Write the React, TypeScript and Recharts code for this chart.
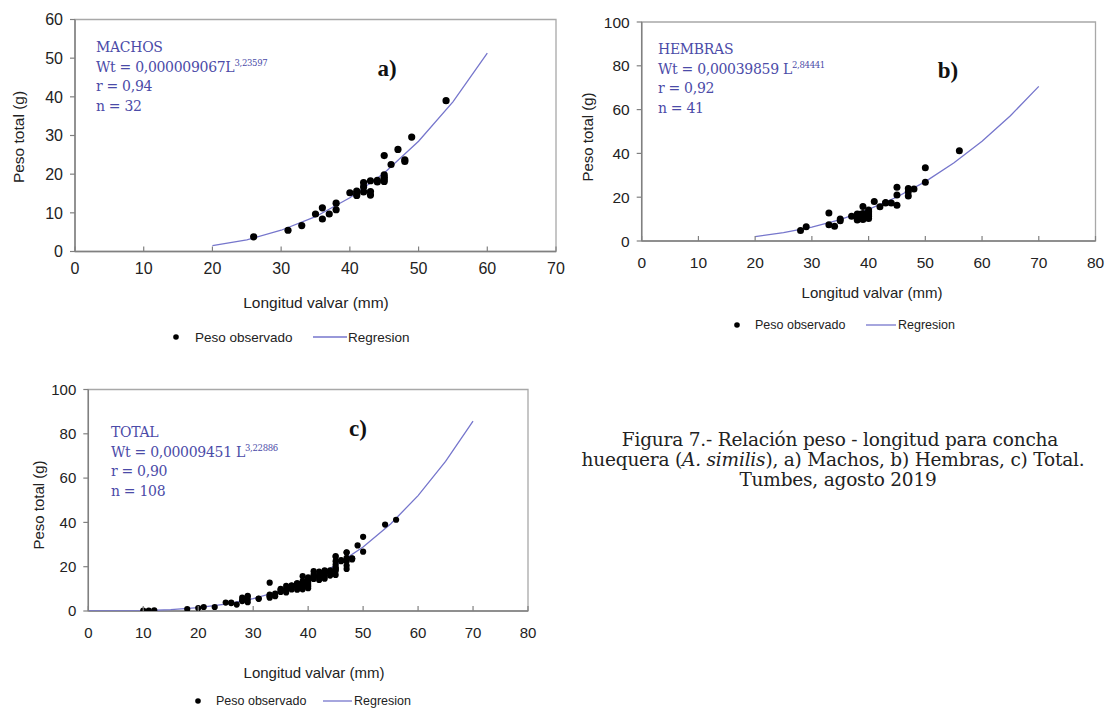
import React from 'react';
import { ScatterChart, Scatter, XAxis, YAxis, ReferenceArea } from 'recharts';

// ---------- DATA ----------
// a) Machos: observed points
const machosLongitud = [26, 31, 33, 35, 36, 36, 37, 38, 38, 40, 41, 41, 41, 42, 42, 42, 43, 43, 43, 44, 44, 45, 45, 45, 45, 45, 46, 47, 48, 48, 49, 54];
const machosPeso = [3.8, 5.5, 6.7, 9.7, 11.3, 8.4, 9.7, 12.5, 10.8, 15.2, 15.6, 14.5, 15.0, 17.8, 16.7, 15.4, 18.3, 15.5, 14.6, 18.4, 18.0, 24.8, 19.8, 18.7, 18.1, 19.2, 22.5, 26.4, 23.7, 23.3, 29.6, 39.0];
// a) regression curve (read off the picture)
const machosRegL = [20, 25, 30, 35, 40, 45, 50, 55, 60];
const machosRegW = [1.5, 3.0, 5.5, 9.0, 13.9, 20.3, 28.5, 38.7, 51.3];

// b) Hembras
const hembrasLongitud = [28, 29, 33, 33, 34, 35, 35, 37, 38, 38, 38, 38.5, 38.5, 38.5, 39, 39, 39, 39, 39, 39, 40, 40, 40, 40, 40, 40, 41, 42, 43, 43, 44, 45, 45, 45, 47, 47, 47, 48, 50, 50, 56];
const hembrasPeso = [4.8, 6.5, 12.8, 7.4, 6.7, 9.3, 10.0, 11.3, 9.6, 11.1, 12.3, 10.3, 12.2, 11.5, 9.8, 11.9, 15.7, 10.8, 12.6, 11.0, 14.2, 11.9, 10.3, 12.8, 13.5, 11.2, 18.0, 15.6, 17.3, 17.6, 17.3, 24.5, 21.0, 16.3, 24.0, 22.5, 20.5, 23.8, 33.5, 26.8, 41.2];
const hembrasRegL = [20, 25, 30, 35, 40, 45, 50, 55, 60, 65, 70];
const hembrasRegW = [2.0, 3.8, 6.3, 9.8, 14.4, 20.1, 27.1, 35.6, 45.5, 57.2, 70.6];

// c) Total = machos + hembras + remaining specimens
const otrosLongitud = [10, 11, 12, 18, 20, 21, 23, 25, 26, 27, 28, 28, 29, 29, 29, 31, 33, 33, 34, 35, 36, 36, 37, 37, 38, 39, 40, 41, 42, 43, 44, 45, 46, 47, 47];
const otrosPeso = [0.2, 0.2, 0.3, 0.9, 1.3, 1.8, 1.8, 3.8, 3.6, 2.9, 4.5, 6.0, 4.0, 5.2, 6.8, 5.6, 6.0, 6.8, 7.8, 8.6, 9.2, 10.0, 10.5, 11.6, 12.5, 13.5, 14.8, 16.5, 14.0, 16.5, 16.0, 22.5, 23.0, 26.5, 19.0];
const totalRegL = [0, 5, 10, 15, 20, 25, 30, 35, 40, 45, 50, 55, 60, 65, 70];
const totalRegW = [0, 0.02, 0.16, 0.59, 1.5, 3.1, 5.6, 9.1, 14.1, 20.6, 28.9, 39.3, 52.1, 67.5, 85.7];

// tick labels
const ticksX70 = [0, 10, 20, 30, 40, 50, 60, 70];
const ticksX80 = [0, 10, 20, 30, 40, 50, 60, 70, 80];
const ticksY60 = [0, 10, 20, 30, 40, 50, 60];
const ticksY100 = [0, 20, 40, 60, 80, 100];

// texts
const xTitle = 'Longitud valvar (mm)';
const yTitle = 'Peso total (g)';
const legendObs = 'Peso observado';
const legendReg = 'Regresion';

const toPts = (xs: number[], ys: number[]) => xs.map((x, i) => ({ x, y: ys[i] }));

const SANS = '"Liberation Sans", Arial, sans-serif';
const SERIF = '"DejaVu Serif", serif';
const BOLDSERIF = '"Liberation Serif", serif';
const BLUE_TXT = '#4b4ba8';
const BLUE_LINE = '#7676cc';
const AXIS = '#808080';
const BORDER = '#a8a8a8';

function makeXTick(offset: number, fontSize: number) {
  return (props: any) => {
    const { x, y, payload } = props;
    return (
      <g>
        <line x1={x} x2={x} y1={y} y2={y - 5} stroke={AXIS} strokeWidth={1.2} />
        <text x={x} y={y + offset} textAnchor="middle" dominantBaseline="central" fontSize={fontSize} fontFamily={SANS} fill="#222">
          {payload.value}
        </text>
      </g>
    );
  };
}

type PanelProps = {
  left: number; top: number; width: number; height: number;
  margin: { top: number; right: number; left: number; bottom: number };
  yAxisWidth: number; xAxisHeight: number;
  xDomain: [number, number]; xTicks: number[];
  yDomain: [number, number]; yTicks: number[];
  obs: { x: number; y: number }[];
  curve: { x: number; y: number }[];
  dotR: number; tickOffset: number; tickFont: number;
};

function Panel(p: PanelProps) {
  return (
    <div style={{ position: 'absolute', left: p.left, top: p.top }}>
      <ScatterChart width={p.width} height={p.height} margin={p.margin}>
        <ReferenceArea x1={p.xDomain[0]} x2={p.xDomain[1]} y1={p.yDomain[0]} y2={p.yDomain[1]} fill="none" stroke={BORDER} strokeWidth={1.3} fillOpacity={0} />
        <XAxis
          type="number" dataKey="x" domain={p.xDomain} ticks={p.xTicks} interval={0}
          allowDataOverflow height={p.xAxisHeight} tickSize={0} tickMargin={0}
          axisLine={{ stroke: AXIS, strokeWidth: 1.5 }} tickLine={false}
          tick={makeXTick(p.tickOffset, p.tickFont)}
        />
        <YAxis
          type="number" dataKey="y" domain={p.yDomain} ticks={p.yTicks} interval={0}
          allowDataOverflow width={p.yAxisWidth} tickSize={5} tickMargin={7}
          axisLine={{ stroke: AXIS, strokeWidth: 1.5 }} tickLine={{ stroke: AXIS, strokeWidth: 1.2 }}
          tick={{ fontSize: p.tickFont, fontFamily: SANS, fill: '#222' }}
        />
        <Scatter
          data={p.curve} isAnimationActive={false} line={{ stroke: BLUE_LINE, strokeWidth: 1.3 }}
          lineType="joint" shape={() => <g />}
        />
        <Scatter
          data={p.obs} isAnimationActive={false}
          shape={(s: any) => <circle cx={s.cx} cy={s.cy} r={p.dotR} fill="#000" />}
        />
      </ScatterChart>
    </div>
  );
}

function Equation({ x, y, name, coef, exp, r, n }: { x: number; y: number; name: string; coef: string; exp: string; r: string; n: string }) {
  const fs = 14;
  return (
    <g fontFamily={SERIF} fontSize={fs} fill={BLUE_TXT} letterSpacing={-0.3}>
      <text x={x} y={y}>{name}</text>
      <text x={x} y={y + 19.5}>
        {`Wt = ${coef}`}
        <tspan fontSize={8.5} dy={-6}>{exp}</tspan>
      </text>
      <text x={x} y={y + 39}>{`r = ${r}`}</text>
      <text x={x} y={y + 58.5}>{`n = ${n}`}</text>
    </g>
  );
}

function Legend({ dotX, textX, lineX1, lineX2, regX, y, fs }: { dotX: number; textX: number; lineX1: number; lineX2: number; regX: number; y: number; fs: number }) {
  return (
    <g fontFamily={SANS} fontSize={fs} fill="#222">
      <circle cx={dotX} cy={y} r={2.8} fill="#000" />
      <text x={textX} y={y} dominantBaseline="central">{legendObs}</text>
      <line x1={lineX1} x2={lineX2} y1={y} y2={y} stroke={BLUE_LINE} strokeWidth={1.3} />
      <text x={regX} y={y} dominantBaseline="central">{legendReg}</text>
    </g>
  );
}

function Titles({ xCx, xCy, yCx, yCy, fs }: { xCx: number; xCy: number; yCx: number; yCy: number; fs: number }) {
  return (
    <g fontFamily={SANS} fontSize={fs} fill="#222">
      <text x={xCx} y={xCy} textAnchor="middle" dominantBaseline="central">{xTitle}</text>
      <text x={yCx} y={yCy} textAnchor="middle" dominantBaseline="central" transform={`rotate(-90 ${yCx} ${yCy})`}>{yTitle}</text>
    </g>
  );
}

export default function App() {
  const machosObs = toPts(machosLongitud, machosPeso);
  const hembrasObs = toPts(hembrasLongitud, hembrasPeso);
  const totalObs = [...machosObs, ...hembrasObs, ...toPts(otrosLongitud, otrosPeso)];

  return (
    <div style={{ position: 'absolute', left: 0, top: 0, width: 1107, height: 708, background: '#fff', overflow: 'hidden' }}>
      <Panel
        left={0} top={0} width={580} height={290}
        margin={{ top: 19.5, right: 24, left: 0, bottom: 0 }}
        yAxisWidth={75} xAxisHeight={38.5}
        xDomain={[0, 70]} xTicks={ticksX70} yDomain={[0, 60]} yTicks={ticksY60}
        obs={machosObs} curve={toPts(machosRegL, machosRegW)} dotR={3.6} tickOffset={16.5} tickFont={16}
      />
      <Panel
        left={560} top={0} width={547} height={300}
        margin={{ top: 22, right: 11.5, left: 0, bottom: 0 }}
        yAxisWidth={81.7} xAxisHeight={59}
        xDomain={[0, 80]} xTicks={ticksX80} yDomain={[0, 100]} yTicks={ticksY100}
        obs={hembrasObs} curve={toPts(hembrasRegL, hembrasRegW)} dotR={3.5} tickOffset={21} tickFont={15.5}
      />
      <Panel
        left={0} top={360} width={560} height={290}
        margin={{ top: 29.5, right: 32, left: 0, bottom: 0 }}
        yAxisWidth={88.3} xAxisHeight={39}
        xDomain={[0, 80]} xTicks={ticksX80} yDomain={[0, 100]} yTicks={ticksY100}
        obs={totalObs} curve={toPts(totalRegL, totalRegW)} dotR={3.1} tickOffset={21} tickFont={15}
      />
      <svg width={1107} height={708} style={{ position: 'absolute', left: 0, top: 0, pointerEvents: 'none' }}>
        <Titles xCx={316} xCy={302} yCx={18} yCy={137} fs={15.5} />
        <Titles xCx={872} xCy={292} yCx={587} yCy={137} fs={15} />
        <Titles xCx={314} xCy={672} yCx={38} yCy={505} fs={15} />

        <Equation x={96} y={52} name="MACHOS" coef="0,000009067L" exp="3,23597" r="0,94" n="32" />
        <Equation x={658} y={54} name="HEMBRAS" coef="0,00039859 L" exp="2,84441" r="0,92" n="41" />
        <Equation x={111} y={437} name="TOTAL" coef="0,00009451 L" exp="3,22886" r="0,90" n="108" />

        <g fontFamily={BOLDSERIF} fontWeight="bold" fontSize={23} fill="#111" textAnchor="middle" dominantBaseline="central">
          <text x={387} y={68}>a)</text>
          <text x={948} y={70}>b)</text>
          <text x={358} y={428}>c)</text>
        </g>

        <Legend dotX={176} textX={195} lineX1={313} lineX2={347} regX={348} y={337} fs={13.5} />
        <Legend dotX={737} textX={755} lineX1={866} lineX2={896} regX={898} y={325} fs={12.5} />
        <Legend dotX={198} textX={216} lineX1={323} lineX2={352} regX={354} y={701} fs={12.5} />

        <g fontFamily={SERIF} fontSize={18.5} fill="#222" textAnchor="middle" letterSpacing={-0.2}>
          <text x={840} y={446}>Figura 7.- Relación peso - longitud para concha</text>
          <text x={833} y={466}>
            huequera (<tspan fontStyle="italic">A. similis</tspan>), a) Machos, b) Hembras, c) Total.
          </text>
          <text x={838} y={486}>Tumbes, agosto 2019</text>
        </g>
      </svg>
    </div>
  );
}
